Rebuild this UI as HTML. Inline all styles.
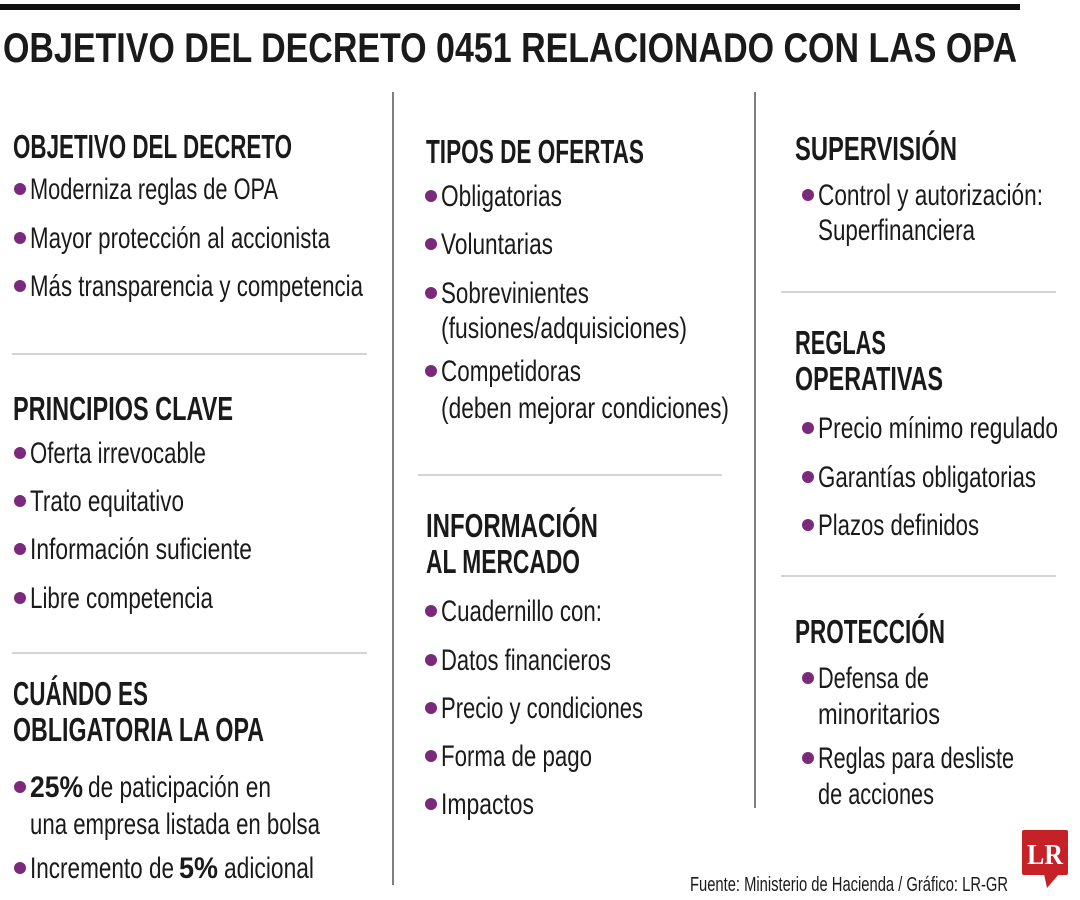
<!DOCTYPE html>
<html><head><meta charset="utf-8"><style>
html,body{margin:0;padding:0;background:#fff;}
svg{display:block}
text{font-family:"Liberation Sans Narrow","Liberation Sans",sans-serif;fill:#1a1a1a}
.h{font-weight:bold;font-size:33px}
.b{font-size:30px}
.bb{font-size:30px;font-weight:bold}
</style></head><body>
<svg width="1080" height="900" viewBox="0 0 1080 900" xmlns="http://www.w3.org/2000/svg">
<rect x="0" y="4" width="1020" height="6" fill="#111"/>
<text x="3" y="62" font-size="42" font-weight="bold" textLength="1014" lengthAdjust="spacingAndGlyphs">OBJETIVO DEL DECRETO 0451 RELACIONADO CON LAS OPA</text>
<g stroke="#555" stroke-width="1.5">
<line x1="393" y1="92" x2="393" y2="885"/>
<line x1="755" y1="92" x2="755" y2="808"/>
</g>
<g stroke="#bbb" stroke-width="1.2">
<line x1="12" y1="354" x2="367" y2="354"/>
<line x1="12" y1="653" x2="367" y2="653"/>
<line x1="418" y1="475" x2="722" y2="475"/>
<line x1="781" y1="292" x2="1056" y2="292"/>
<line x1="781" y1="576" x2="1056" y2="576"/>
</g>
<g fill="#7b2a7b">
<circle cx="20" cy="189" r="6"/><circle cx="20" cy="238" r="6"/><circle cx="20" cy="286" r="6"/>
<circle cx="20" cy="453" r="6"/><circle cx="20" cy="501" r="6"/><circle cx="20" cy="549" r="6"/><circle cx="20" cy="598" r="6"/>
<circle cx="20" cy="787" r="6"/><circle cx="20" cy="868" r="6"/>
<circle cx="431" cy="196" r="6"/><circle cx="431" cy="244" r="6"/><circle cx="431" cy="293" r="6"/><circle cx="431" cy="371" r="6"/>
<circle cx="431" cy="611" r="6"/><circle cx="431" cy="660" r="6"/><circle cx="431" cy="708" r="6"/><circle cx="431" cy="756" r="6"/><circle cx="431" cy="804" r="6"/>
<circle cx="808" cy="195" r="6"/><circle cx="808" cy="428" r="6"/><circle cx="808" cy="477" r="6"/><circle cx="808" cy="525" r="6"/>
<circle cx="808" cy="678" r="6"/><circle cx="808" cy="758" r="6"/>
</g>
<!-- col1 -->
<text class="h" x="13" y="158" textLength="279" lengthAdjust="spacingAndGlyphs">OBJETIVO DEL DECRETO</text>
<text class="b" x="30" y="199" textLength="248" lengthAdjust="spacingAndGlyphs">Moderniza reglas de OPA</text>
<text class="b" x="30" y="248" textLength="300" lengthAdjust="spacingAndGlyphs">Mayor protección al accionista</text>
<text class="b" x="30" y="296" textLength="333" lengthAdjust="spacingAndGlyphs">Más transparencia y competencia</text>
<text class="h" x="13" y="420" textLength="220" lengthAdjust="spacingAndGlyphs">PRINCIPIOS CLAVE</text>
<text class="b" x="30" y="463" textLength="176" lengthAdjust="spacingAndGlyphs">Oferta irrevocable</text>
<text class="b" x="30" y="511" textLength="154" lengthAdjust="spacingAndGlyphs">Trato equitativo</text>
<text class="b" x="30" y="559" textLength="222" lengthAdjust="spacingAndGlyphs">Información suficiente</text>
<text class="b" x="30" y="608" textLength="183" lengthAdjust="spacingAndGlyphs">Libre competencia</text>
<text class="h" x="13" y="705" textLength="135" lengthAdjust="spacingAndGlyphs">CUÁNDO ES</text>
<text class="h" x="13" y="741" textLength="251" lengthAdjust="spacingAndGlyphs">OBLIGATORIA LA OPA</text>
<text class="bb" x="30" y="797" textLength="53" lengthAdjust="spacingAndGlyphs">25%</text>
<text class="b" x="88" y="797" textLength="183" lengthAdjust="spacingAndGlyphs">de paticipación en</text>
<text class="b" x="30" y="834" textLength="290" lengthAdjust="spacingAndGlyphs">una empresa listada en bolsa</text>
<text class="b" x="30" y="878" textLength="144" lengthAdjust="spacingAndGlyphs">Incremento de</text>
<text class="bb" x="179" y="878" textLength="39" lengthAdjust="spacingAndGlyphs">5%</text>
<text class="b" x="224" y="878" textLength="90" lengthAdjust="spacingAndGlyphs">adicional</text>
<!-- col2 -->
<text class="h" x="426" y="163" textLength="218" lengthAdjust="spacingAndGlyphs">TIPOS DE OFERTAS</text>
<text class="b" x="441" y="206" textLength="121" lengthAdjust="spacingAndGlyphs">Obligatorias</text>
<text class="b" x="441" y="254" textLength="112" lengthAdjust="spacingAndGlyphs">Voluntarias</text>
<text class="b" x="441" y="303" textLength="148" lengthAdjust="spacingAndGlyphs">Sobrevinientes</text>
<text class="b" x="441" y="338" textLength="246" lengthAdjust="spacingAndGlyphs">(fusiones/adquisiciones)</text>
<text class="b" x="441" y="381" textLength="140" lengthAdjust="spacingAndGlyphs">Competidoras</text>
<text class="b" x="441" y="418" textLength="288" lengthAdjust="spacingAndGlyphs">(deben mejorar condiciones)</text>
<text class="h" x="426" y="537" textLength="172" lengthAdjust="spacingAndGlyphs">INFORMACIÓN</text>
<text class="h" x="426" y="573" textLength="154" lengthAdjust="spacingAndGlyphs">AL MERCADO</text>
<text class="b" x="441" y="621" textLength="161" lengthAdjust="spacingAndGlyphs">Cuadernillo con:</text>
<text class="b" x="441" y="670" textLength="170" lengthAdjust="spacingAndGlyphs">Datos financieros</text>
<text class="b" x="441" y="718" textLength="202" lengthAdjust="spacingAndGlyphs">Precio y condiciones</text>
<text class="b" x="441" y="766" textLength="151" lengthAdjust="spacingAndGlyphs">Forma de pago</text>
<text class="b" x="441" y="814" textLength="93" lengthAdjust="spacingAndGlyphs">Impactos</text>
<!-- col3 -->
<text class="h" x="795" y="160" textLength="162" lengthAdjust="spacingAndGlyphs">SUPERVISIÓN</text>
<text class="b" x="818" y="205" textLength="225" lengthAdjust="spacingAndGlyphs">Control y autorización:</text>
<text class="b" x="818" y="240" textLength="157" lengthAdjust="spacingAndGlyphs">Superfinanciera</text>
<text class="h" x="795" y="354" textLength="91" lengthAdjust="spacingAndGlyphs">REGLAS</text>
<text class="h" x="795" y="390" textLength="148" lengthAdjust="spacingAndGlyphs">OPERATIVAS</text>
<text class="b" x="818" y="438" textLength="240" lengthAdjust="spacingAndGlyphs">Precio mínimo regulado</text>
<text class="b" x="818" y="487" textLength="218" lengthAdjust="spacingAndGlyphs">Garantías obligatorias</text>
<text class="b" x="818" y="535" textLength="161" lengthAdjust="spacingAndGlyphs">Plazos definidos</text>
<text class="h" x="795" y="643" textLength="150" lengthAdjust="spacingAndGlyphs">PROTECCIÓN</text>
<text class="b" x="818" y="688" textLength="111" lengthAdjust="spacingAndGlyphs">Defensa de</text>
<text class="b" x="818" y="724" textLength="122" lengthAdjust="spacingAndGlyphs">minoritarios</text>
<text class="b" x="818" y="768" textLength="196" lengthAdjust="spacingAndGlyphs">Reglas para desliste</text>
<text class="b" x="818" y="804" textLength="116" lengthAdjust="spacingAndGlyphs">de acciones</text>
<!-- footer -->
<text x="690" y="891" font-size="20" textLength="318" lengthAdjust="spacingAndGlyphs">Fuente: Ministerio de Hacienda / Gráfico: LR-GR</text>
<rect x="1022" y="830" width="46" height="45" rx="2" fill="#c62127"/>
<polygon points="1044,874 1059,874 1047,888" fill="#c62127"/>
<text x="1027" y="864" font-weight="bold" font-size="28" style="fill:#fff;font-family:'Liberation Serif',serif" textLength="36" lengthAdjust="spacingAndGlyphs">LR</text>
</svg>
</body></html>
